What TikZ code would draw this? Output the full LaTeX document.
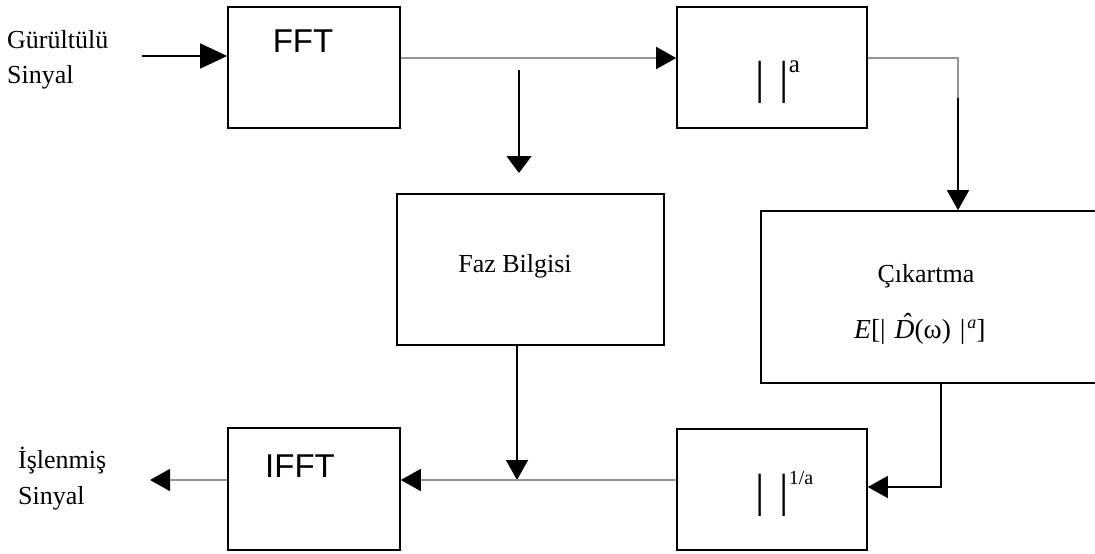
\documentclass[tikz,border=0pt]{standalone}
\usepackage{fontspec}
\setmainfont{Liberation Serif}
\newfontfamily\arialf{Liberation Sans}
\usetikzlibrary{arrows.meta}
\tikzset{
  blk/.style={draw=black, line width=1.6pt, rectangle, inner sep=0pt},
  conn/.style={draw=black, line width=1.4pt},
  gconn/.style={draw=black!42, line width=1.6pt},
  tip/.style={-{Triangle[length=20pt,width=22pt,color=black]}},
  bigtip/.style={-{Triangle[length=27pt,width=25pt,color=black]}},
  shorttip/.style={-{Triangle[length=17pt,width=25pt,color=black]}},
  lbl/.style={font=\fontsize{26}{30}\selectfont, inner sep=0pt},
  sflbl/.style={font=\arialf\fontsize{33}{36}\selectfont, inner sep=0pt},
}
\newcommand{\absbars}{{\fontsize{46.5}{46.5}\selectfont|\hspace{15pt}|}}
\newcommand{\Dhat}{\ooalign{\textit{D}\cr\hidewidth\kern4pt\raisebox{6pt}{\textit{ˆ}}\hidewidth\cr}}
\begin{document}
\begin{tikzpicture}[x=1pt,y=-1pt]
\clip (0,0) rectangle (1095,554);
\fill[white] (0,0) rectangle (1095,554);
% boxes
\node[blk, minimum width=172pt, minimum height=121pt] (fft) at (314,67.5) {};
\node[blk, minimum width=190pt, minimum height=121pt] (abs) at (772,67.5) {};
\node[blk, minimum width=267pt, minimum height=151pt] (faz) at (530.5,269.5) {};
\node[blk, minimum width=345pt, minimum height=172pt] (cik) at (933.5,297) {};
\node[blk, minimum width=172pt, minimum height=122pt] (ifft) at (314,489) {};
\node[blk, minimum width=190pt, minimum height=121pt] (inv) at (772,489.5) {};
% texts
\node[sflbl, anchor=base] (tfft) at (303,52) {FFT};
\node[sflbl, anchor=base] (tifft) at (300,477) {IFFT};
\node[lbl, anchor=base] (tfaz) at (515,272) {Faz Bilgisi};
\node[lbl, anchor=base] (tcik) at (926,282) {Çıkartma};
\node[font=\fontsize{27.5}{30}\selectfont, inner sep=0pt, anchor=base west] (tform) at (854,338) {\textit{E}[|\hspace{9pt}\Dhat(ω)\hspace{9pt}|\raisebox{10pt}{\fontsize{18}{18}\selectfont\hspace{2pt}\textit{a}}]};
\node[anchor=base west, inner sep=0pt] (tabs) at (755,93) {\absbars\raisebox{21pt}{\fontsize{25}{25}\selectfont a}};
\node[anchor=base west, inner sep=0pt] (tinv) at (755,506) {\absbars\raisebox{22pt}{\fontsize{20}{20}\selectfont 1/a}};
\node[lbl, anchor=base west] (in1) at (7,48) {Gürültülü};
\node[lbl, anchor=base west] (in2) at (7,83) {Sinyal};
\node[lbl, anchor=base west] (out1) at (18,468) {İşlenmiş};
\node[lbl, anchor=base west] (out2) at (18,504) {Sinyal};
% coordinates
\coordinate (inS) at (142,56);
\coordinate (outE) at (150,480);
\coordinate (brA) at (519,70);
\coordinate (brB) at (519,173);
\coordinate (c1) at (958,58);
\coordinate (c1b) at (958,98);
\coordinate (j1) at (517,480);
\coordinate (c2) at (941,487);
% connectors
\draw[conn, bigtip] (inS) -- (inS -| fft.west);
\draw[gconn, tip] (fft.east |- c1) -- (abs.west |- c1);
\draw[conn, shorttip] (brA) -- (brB);
\draw[gconn] (abs.east |- c1) -- (c1) -- (c1b);
\draw[conn, tip] (c1b) -- (c1 |- cik.north);
\draw[conn, tip] (j1 |- faz.south) -- (j1);
\draw[gconn, tip] (inv.west |- j1) -- (ifft.east |- j1);
\draw[gconn, tip] (ifft.west |- outE) -- (outE);
\draw[conn, tip] (c2 |- cik.south) -- (c2) -- (inv.east |- c2);
\end{tikzpicture}
\end{document}
